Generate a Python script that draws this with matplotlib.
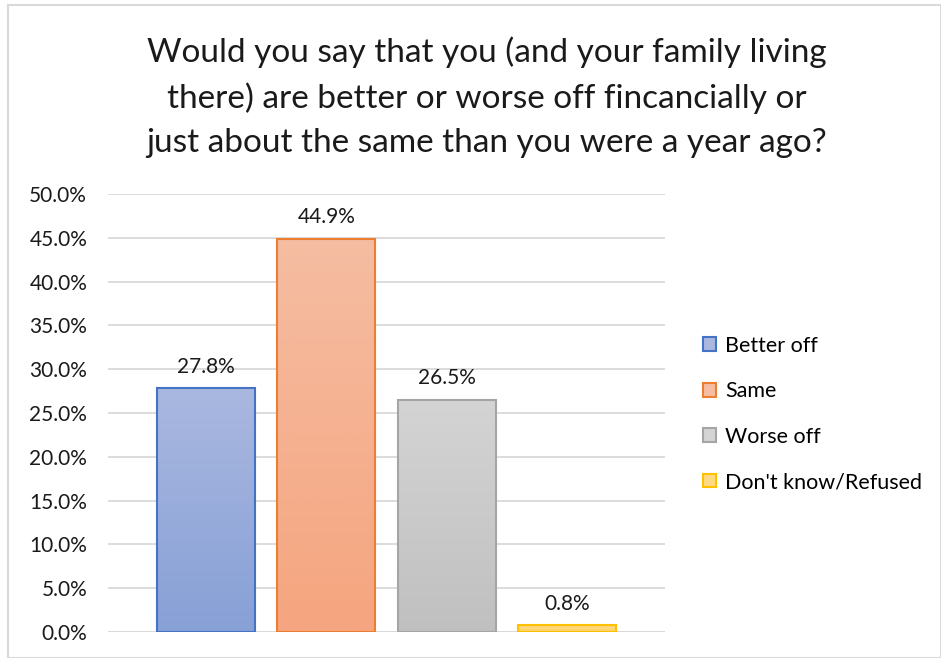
import matplotlib
matplotlib.use("Agg")
import matplotlib.pyplot as plt
import numpy as np
from matplotlib.patches import Rectangle
from matplotlib.colors import LinearSegmentedColormap

plt.rcParams['font.family'] = ['Lato', 'DejaVu Sans']

categories = ["Better off", "Same", "Worse off", "Don't know/Refused"]
values = [27.8, 44.9, 26.5, 0.8]
yticks = [0, 5, 10, 15, 20, 25, 30, 35, 40, 45, 50]
title = ("Would you say that you (and your family living\n"
         "there) are better or worse off fincancially or\n"
         "just about the same than you were a year ago?")

edge_colors = ["#4472C4", "#ED7D31", "#A5A5A5", "#FFC000"]
top_colors = ["#AAB8E0", "#F5BDA2", "#D4D4D4", "#FFDA85"]
bottom_colors = ["#87A0D6", "#F5A57F", "#C0C0C0", "#FFD36A"]

fig = plt.figure(figsize=(9.41, 6.58), dpi=100)
W, H = 941, 658
ax = fig.add_axes([108 / W, 1 - 632 / H, (665 - 108) / W, (632 - 194) / H])

x = np.arange(len(categories))
width = 0.815
grad = np.linspace(0, 1, 256).reshape(-1, 1)
for i, (xi, v) in enumerate(zip(x, values)):
    cmap = LinearSegmentedColormap.from_list("g", [bottom_colors[i], top_colors[i]])
    ax.imshow(grad, extent=[xi - width / 2, xi + width / 2, 0, v], origin="lower",
              cmap=cmap, aspect="auto", zorder=2)
    ax.bar(xi, v, width=width, facecolor="none", edgecolor=edge_colors[i],
           linewidth=1.5, zorder=3)
    ax.text(xi, v + 1.3, f"{v:.1f}%", ha="center", va="bottom", fontsize=15,
            color="#1a1a1a", zorder=4)

ax.set_xlim(-0.815, 3.815)
ax.set_ylim(0, 50)
ax.set_yticks(yticks)
ax.set_yticklabels([f"{t:.1f}%" for t in yticks], fontsize=15, color="#1a1a1a")
ax.set_xticks([])
ax.tick_params(axis="y", length=0, pad=15)
ax.yaxis.grid(True, color="#D9D9D9", linewidth=1.3, zorder=0)
ax.set_axisbelow(True)
for s in ax.spines.values():
    s.set_visible(False)
ax.axhline(0, color="#D9D9D9", linewidth=1.3, zorder=1)

handles = [Rectangle((0, 0), 1, 1, facecolor=top_colors[i], edgecolor=edge_colors[i],
                     linewidth=1.5) for i in range(len(categories))]
fig.legend(handles, categories, loc="center left", bbox_to_anchor=(684 / W, 1 - 414 / H),
           frameon=False, fontsize=15.5, handlelength=0.6, handleheight=0.6,
           handletextpad=0.4, labelspacing=1.18)

fig.text(487 / W, 1 - 97 / H, title, ha="center", va="center", fontsize=24,
         color="#1a1a1a", linespacing=1.58)

fig.patches.append(Rectangle((8 / W, 0), (W - 8) / W, 1 - 5 / H, transform=fig.transFigure,
                             facecolor="none", edgecolor="#D9D9D9", linewidth=1.5))

fig.savefig("out.png", dpi=100)
